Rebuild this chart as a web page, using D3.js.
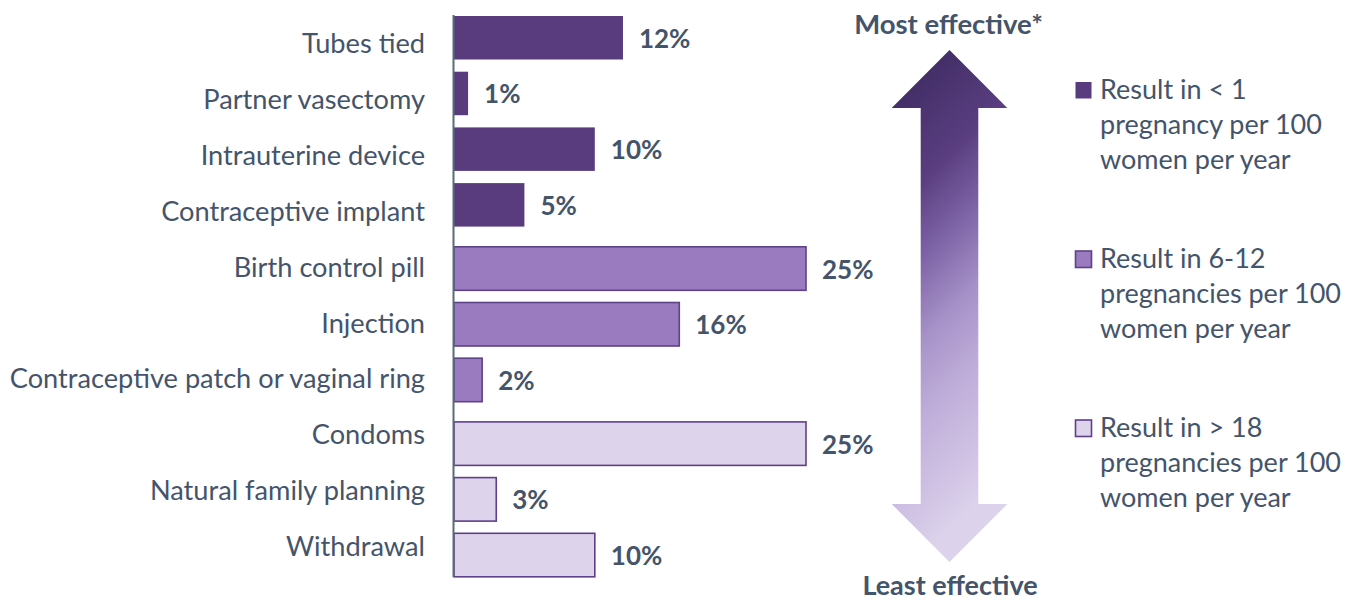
<!DOCTYPE html>
<html>
<head>
<meta charset="utf-8">
<script src="https://cdn.jsdelivr.net/npm/d3@7/dist/d3.min.js"></script>
<style>
  html, body { margin: 0; padding: 0; background: #ffffff; }
  svg { display: block; }
  text { font-family: Lato, "Noto Sans", sans-serif; fill: #44546a; }
</style>
</head>
<body>
<svg id="chart" width="1355" height="600"></svg>
<script>
// Contraceptive methods, ordered from most to least effective
const categories = [
  "Tubes tied",
  "Partner vasectomy",
  "Intrauterine device",
  "Contraceptive implant",
  "Birth control pill",
  "Injection",
  "Contraceptive patch or vaginal ring",
  "Condoms",
  "Natural family planning",
  "Withdrawal"
];
// Share of users per method (%)
const values = [12, 1, 10, 5, 25, 16, 2, 25, 3, 10];
// Effectiveness tier of each method (0 = most effective)
const tiers = [0, 0, 0, 0, 1, 1, 1, 2, 2, 2];
// Legend text per tier, one entry per line
const tierLabels = [
  ["Result in < 1", "pregnancy per 100", "women per year"],
  ["Result in 6-12", "pregnancies per 100", "women per year"],
  ["Result in > 18", "pregnancies per 100", "women per year"]
];
const arrowLabels = ["Most effective*", "Least effective"];

// Tier styling
const tierFill = ["#583c7d", "#9a7bbf", "#ddd3ea"];
const tierStroke = ["#583c7d", "#5f4288", "#5f3f8a"];
const tierStrokeWidth = [0, 1.6, 1.6];

const svg = d3.select("#chart");

// Scales
const x = d3.scaleLinear().domain([0, 25]).range([454, 806]);

const barStep = 55.7, tierGap = 8, barTop = 16;
const yBar = d3.scaleBand()
  .domain(categories)
  .range([barTop, barTop + barStep * (categories.length - 0.219)])
  .paddingInner(0.219)
  .paddingOuter(0);

// Category labels sit on an evenly spaced point scale
const yLabel = d3.scalePoint()
  .domain(categories)
  .range([53.3, 53.3 + 55.85 * (categories.length - 1)]);

const rows = categories.map((c, i) => ({ c, v: values[i], t: tiers[i] }));
const barY = d => yBar(d.c) + d.t * tierGap;

// Bars
svg.append("g").selectAll("rect")
  .data(rows)
  .join("rect")
  .attr("x", x(0))
  .attr("y", barY)
  .attr("width", d => x(d.v) - x(0))
  .attr("height", yBar.bandwidth())
  .attr("fill", d => tierFill[d.t])
  .attr("stroke", d => tierStrokeWidth[d.t] ? tierStroke[d.t] : "none")
  .attr("stroke-width", d => tierStrokeWidth[d.t]);

// Value labels
svg.append("g").selectAll("text")
  .data(rows)
  .join("text")
  .attr("x", d => x(d.v) + 16)
  .attr("y", d => barY(d) + yBar.bandwidth() / 2 + 10)
  .attr("font-size", 26)
  .attr("font-weight", 700)
  .text(d => d.v + "%");

// Category labels
svg.append("g").selectAll("text")
  .data(categories)
  .join("text")
  .attr("x", 425)
  .attr("y", d => yLabel(d))
  .attr("text-anchor", "end")
  .attr("font-size", 27.2)
  .text(d => d);

// Vertical baseline of the bars
svg.append("line")
  .attr("x1", 453.5).attr("x2", 453.5)
  .attr("y1", 15).attr("y2", 577)
  .attr("stroke", "#5b6a7b")
  .attr("stroke-width", 2);

// Effectiveness arrow with gradient fill
const defs = svg.append("defs");
const grad = defs.append("linearGradient")
  .attr("id", "effGrad")
  .attr("x1", "0%").attr("y1", "0%")
  .attr("x2", "22%").attr("y2", "100%");
[
  [0, "#392850"],
  [0.12, "#45306a"],
  [0.3, "#5a3e80"],
  [0.45, "#7f66a8"],
  [0.6, "#a893c9"],
  [0.75, "#c0afda"],
  [0.9, "#d0c3e4"],
  [1, "#dcd2eb"]
].forEach(([o, c]) => grad.append("stop").attr("offset", o).attr("stop-color", c));

const ax = 949.5, headHalf = 57.8, shaftHalf = 28.8;
const tipTop = 50, headTopBase = 108, headBotBase = 504, tipBot = 562;
const arrowPath = d3.path();
arrowPath.moveTo(ax, tipTop);
arrowPath.lineTo(ax + headHalf, headTopBase);
arrowPath.lineTo(ax + shaftHalf, headTopBase);
arrowPath.lineTo(ax + shaftHalf, headBotBase);
arrowPath.lineTo(ax + headHalf, headBotBase);
arrowPath.lineTo(ax, tipBot);
arrowPath.lineTo(ax - headHalf, headBotBase);
arrowPath.lineTo(ax - shaftHalf, headBotBase);
arrowPath.lineTo(ax - shaftHalf, headTopBase);
arrowPath.lineTo(ax - headHalf, headTopBase);
arrowPath.closePath();
svg.append("path").attr("d", arrowPath.toString()).attr("fill", "url(#effGrad)");

svg.append("text")
  .attr("x", 948.5).attr("y", 34)
  .attr("text-anchor", "middle")
  .attr("font-size", 27.5).attr("font-weight", 700)
  .text(arrowLabels[0]);
svg.append("text")
  .attr("x", 950).attr("y", 595)
  .attr("text-anchor", "middle")
  .attr("font-size", 27).attr("font-weight", 700)
  .text(arrowLabels[1]);

// Legend
const legendY = d3.scalePoint().domain([0, 1, 2]).range([99, 437]);
const legend = svg.append("g").selectAll("g")
  .data(tierLabels)
  .join("g")
  .attr("transform", (d, i) => `translate(0,${legendY(i)})`);

legend.append("rect")
  .attr("x", 1075.5).attr("y", -17)
  .attr("width", 16).attr("height", 16.5)
  .attr("fill", (d, i) => tierFill[i])
  .attr("stroke", (d, i) => tierStroke[i])
  .attr("stroke-width", (d, i) => tierStrokeWidth[i] || 0);

legend.append("text")
  .attr("font-size", 27)
  .selectAll("tspan")
  .data(d => d)
  .join("tspan")
  .attr("x", 1100)
  .attr("y", (d, j) => j * 35)
  .text(d => d);
</script>
</body>
</html>
